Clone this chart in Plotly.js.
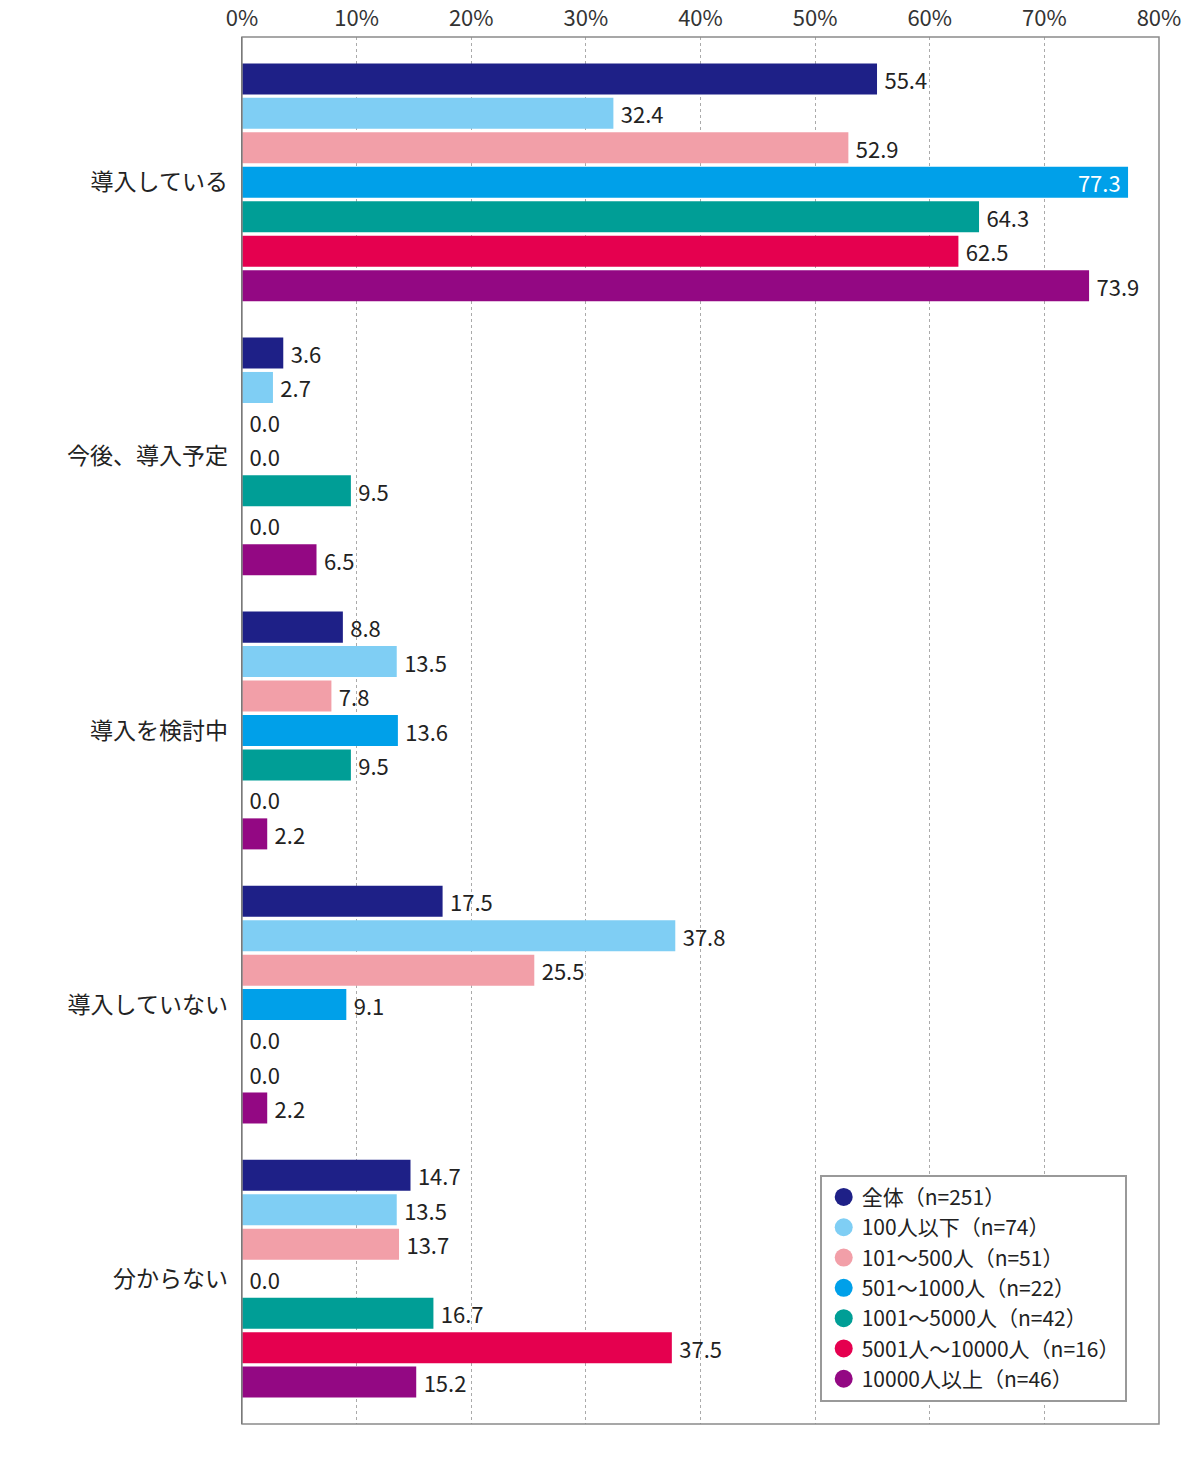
<!DOCTYPE html>
<html>
<head>
<meta charset="utf-8">
<script src="https://cdn.plot.ly/plotly-3.0.1.min.js"></script>
<style>
  body { margin: 0; background: #fff; }
  #chart { width: 1200px; height: 1461px; }
</style>
</head>
<body>
<div id="chart"></div>
<script>
// answer categories (top to bottom)
var categories = ['導入している', '今後、導入予定', '導入を検討中', '導入していない', '分からない'];

var seriesNames = [
  '全体（n=251）',
  '100人以下（n=74）',
  '101～500人（n=51）',
  '501～1000人（n=22）',
  '1001～5000人（n=42）',
  '5001人～10000人（n=16）',
  '10000人以上（n=46）'
];

var allCompanies = [55.4, 3.6, 8.8, 17.5, 14.7];
var upTo100     = [32.4, 2.7, 13.5, 37.8, 13.5];
var s101to500   = [52.9, 0.0, 7.8, 25.5, 13.7];
var s501to1000  = [77.3, 0.0, 13.6, 9.1, 0.0];
var s1001to5000 = [64.3, 9.5, 9.5, 0.0, 16.7];
var s5001to10000 = [62.5, 0.0, 0.0, 0.0, 37.5];
var over10000   = [73.9, 6.5, 2.2, 2.2, 15.2];

var seriesValues = [allCompanies, upTo100, s101to500, s501to1000, s1001to5000, s5001to10000, over10000];
var colors = ['#1e2087', '#7fcef4', '#f29fa8', '#00a0e9', '#009e96', '#e5004f', '#930883'];

var traces = seriesValues.map(function (vals, i) {
  // the long bar carries its label inside, in white
  var pos = vals.map(function (v) { return v > 75 ? 'inside' : 'outside'; });
  var tmpl = vals.map(function (v) { return v > 75 ? '%{x:.1f}\u2009' : '\u2009%{x:.1f}'; });
  return {
    type: 'bar',
    orientation: 'h',
    name: seriesNames[i],
    y: categories,
    x: vals,
    marker: { color: colors[i] },
    texttemplate: tmpl,
    textposition: pos,
    insidetextanchor: 'end',
    constraintext: 'none',
    cliponaxis: false,
    insidetextfont: { color: '#ffffff', size: 22 },
    outsidetextfont: { color: '#222222', size: 22 },
    hoverinfo: 'skip'
  };
});

var layout = {
  width: 1200,
  height: 1461,
  margin: { t: 37, b: 37, l: 242, r: 41, pad: 0 },
  paper_bgcolor: '#ffffff',
  plot_bgcolor: '#ffffff',
  font: { family: '"Noto Sans CJK JP", "Noto Sans", sans-serif', color: '#222' },
  barmode: 'group',
  bargap: 0.12,
  bargroupgap: 0.1,
  xaxis: {
    side: 'top',
    range: [0, 80],
    dtick: 10,
    ticksuffix: '%',
    showgrid: true,
    gridcolor: '#aaaaaa',
    griddash: 'dot',
    gridwidth: 1,
    zeroline: false,
    showline: false,
    ticks: '',
    ticklabelstandoff: 6,
    tickfont: { size: 22, color: '#333' },
    fixedrange: true
  },
  yaxis: {
    type: 'category',
    categoryorder: 'array',
    categoryarray: categories,
    range: [4.53, -0.53],
    showline: true,
    linecolor: '#444',
    linewidth: 1.5,
    showgrid: false,
    zeroline: false,
    ticks: '',
    ticklabelstandoff: 8,
    tickfont: { size: 23, color: '#222' },
    fixedrange: true
  },
  shapes: [{
    type: 'rect', xref: 'paper', yref: 'paper',
    x0: 0, x1: 1, y0: 0, y1: 1,
    line: { color: '#8a8a8a', width: 1.5 },
    layer: 'above'
  }],
  showlegend: true,
  legend: {
    x: 0.63, xanchor: 'left',
    y: 0.016, yanchor: 'bottom',
    traceorder: 'normal',
    bgcolor: '#ffffff',
    bordercolor: '#999999',
    borderwidth: 2,
    font: { size: 21, color: '#222' },
    itemwidth: 30,
    tracegroupgap: 0
  }
};

Plotly.newPlot('chart', traces, layout, { displayModeBar: false, staticPlot: true }).then(function () {
  // round legend markers like the original
  document.querySelectorAll('.legend .traces').forEach(function (g) {
    var pt = g.querySelector('.legendpoints path');
    if (pt) {
      pt.setAttribute('d', 'M9,0A9,9 0 1,1 -9,0A9,9 0 1,1 9,0Z');
      pt.setAttribute('transform', 'translate(22,0)');
    }
  });
});
</script>
</body>
</html>
